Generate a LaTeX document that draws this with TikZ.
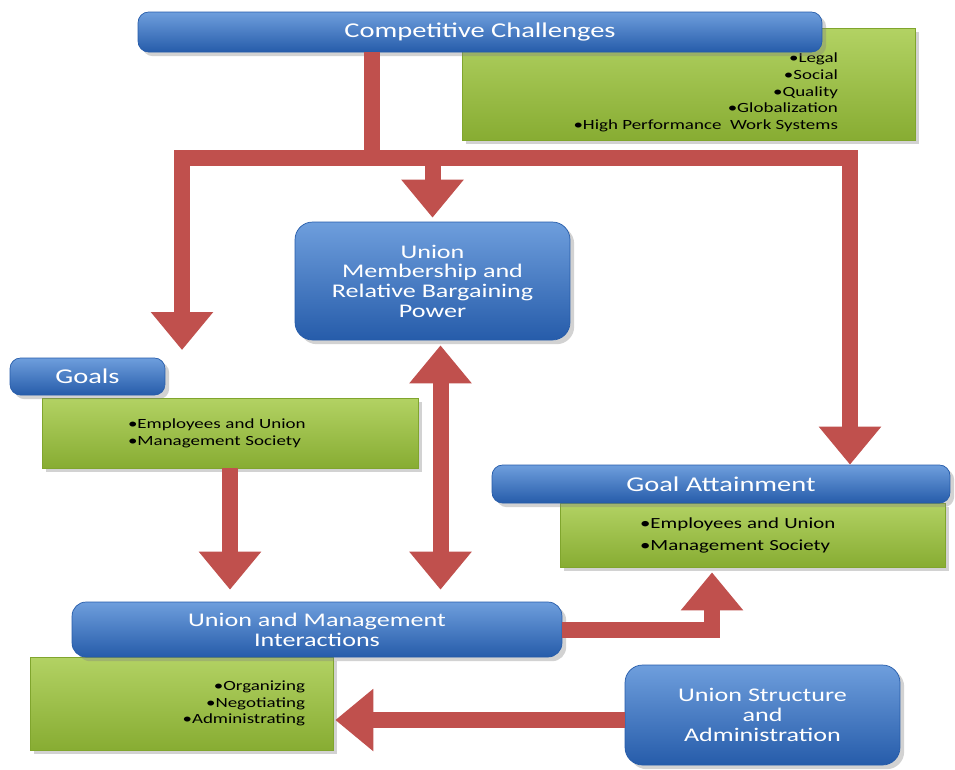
\documentclass[tikz,border=0pt]{standalone}
\usepackage{fontspec}
\setmainfont{Carlito}[FakeStretch=1.35]
\usepackage{tikz}
\usetikzlibrary{arrows.meta,calc,shadows}
\definecolor{hrblue}{RGB}{74,134,212}
\definecolor{hrbluedark}{RGB}{38,92,170}
\definecolor{hrgreen}{RGB}{165,202,72}
\definecolor{hrgreendark}{RGB}{128,165,45}
\definecolor{hrred}{RGB}{192,80,77}

\tikzset{
  bluebox/.style={draw=hrbluedark, top color=hrblue!80!white, bottom color=hrbluedark, rounded corners=6pt, align=center, text=white, drop shadow={opacity=0.35}, inner sep=2pt, font=\fontsize{12}{14}\selectfont},
  greenbox/.style={draw=hrgreendark, top color=hrgreen!85!white, bottom color=hrgreendark!80!hrgreen, drop shadow={opacity=0.35}, inner xsep=0pt, font=\fontsize{8}{9.5}\selectfont},
  listtext/.style={inner sep=0pt, font=\fontsize{8}{9.5}\selectfont},
  flow/.style={draw=hrred, line width=0.32cm},
  flowarrow/.style={flow, -{Triangle[width=1.2cm,length=0.76cm]}},
  flowboth/.style={flow, {Triangle[width=1.2cm,length=0.76cm]}-{Triangle[width=1.2cm,length=0.76cm]}},
}

\begin{document}
\begin{tikzpicture}[x=0.02cm, y=-0.02cm]
  \useasboundingbox[fill=white] (0,0) rectangle (955,769);

  %% Green detail boxes
  \node[greenbox, minimum width=9.06cm, minimum height=2.24cm] (ccg) at (688.5,84) {};
  \node[listtext, anchor=north east, align=right] (cclist) at ([xshift=-1.54cm,yshift=-0.5cm]ccg.north east) {%
    \textbullet Legal\\\textbullet Social\\\textbullet Quality\\\textbullet Globalization\\\textbullet High Performance\ \ Work Systems};
  \node[greenbox, minimum width=7.52cm, minimum height=1.4cm, text width=4.08cm, align=left] (goalsg) at (230,433) {%
    \textbullet Employees and Union\\\textbullet Management Society};
  \node[greenbox, minimum width=7.7cm, minimum height=1.28cm, text width=4.5cm, align=left, font=\fontsize{8.8}{12.5}\selectfont] (gag) at (752.5,535) {%
    \textbullet Employees and Union\\\textbullet Management Society};
  \node[greenbox, minimum width=6.06cm, minimum height=1.86cm, text width=4.94cm, align=right] (interg) at (181.5,703.5) {%
    \textbullet Organizing\\\textbullet Negotiating\\\textbullet Administrating};

  %% Blue boxes
  \node[bluebox, minimum width=13.68cm, minimum height=0.8cm] (cc) at (480,32) {Competitive Challenges};
  \node[bluebox, minimum width=5.5cm, minimum height=2.36cm, rounded corners=10pt, font=\fontsize{11}{11.2}\selectfont] (member) at (432.5,281) {Union\\Membership and\\Relative Bargaining\\Power};
  \node[bluebox, minimum width=3.1cm, minimum height=0.74cm] (goals) at (87.5,376.5) {Goals};
  \node[bluebox, minimum width=9.16cm, minimum height=0.76cm] (ga) at (721,484) {Goal Attainment};
  \node[bluebox, minimum width=9.8cm, minimum height=1.1cm, rounded corners=8pt, font=\fontsize{11}{11.5}\selectfont] (inter) at (317,629.5) {Union and Management\\Interactions};
  \node[bluebox, minimum width=5.5cm, minimum height=2.0cm, rounded corners=10pt, font=\fontsize{11}{11.5}\selectfont] (struct) at (762.5,715) {Union Structure\\and\\Administration};

  %% Arrows
  \coordinate (jC) at (372,158);
  \coordinate (jM) at (432.5,158);
  \coordinate (tipL) at (182,350);
  \coordinate (bend) at (712,629.5);

  \draw[flow] (cc.south -| jC) -- (jC);
  \draw[flowarrow] (jC) -| (tipL);
  \draw[flowarrow] (jC) -| ([xshift=2.58cm]ga.north);
  \draw[flowarrow] (jM) -- ([yshift=0.08cm]member.north);
  \draw[flowarrow] (goalsg.south) -- ([yshift=0.24cm]goalsg.south |- inter.north);
  \draw[flowboth] ([xshift=0.16cm,yshift=-0.1cm]member.south) -- ([xshift=0.16cm,yshift=0.24cm]member.south |- inter.north);
  \draw[flowarrow] (inter.east) -- (bend) -- ([yshift=-0.1cm]bend |- gag.south);
  \draw[flowarrow] ([yshift=-0.1cm]struct.west) -- ([yshift=-0.1cm,xshift=0.04cm]struct.west -| interg.east);
\end{tikzpicture}
\end{document}
